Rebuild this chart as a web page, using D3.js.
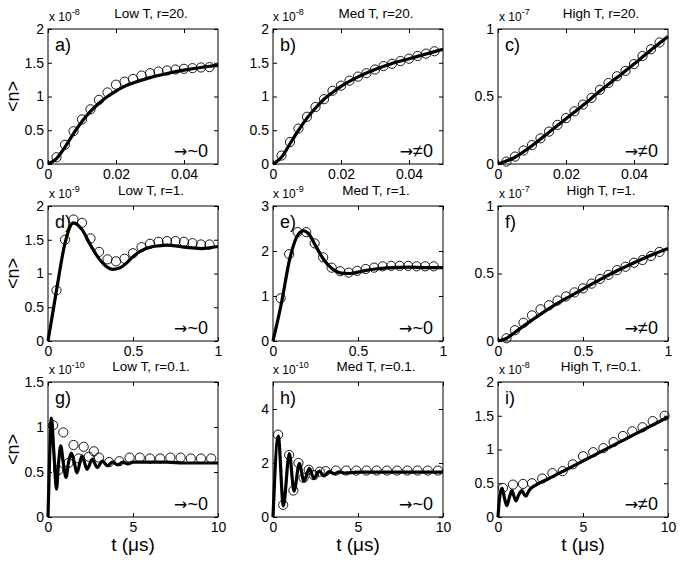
<!DOCTYPE html>
<html>
<head>
<meta charset="utf-8">
<script src="https://cdn.jsdelivr.net/npm/d3@7"></script>
<style>
  body { margin: 0; background: #fff; }
  svg { font-family: "Liberation Sans", Arial, Helvetica, sans-serif; }
  .tick text { font-size: 14px; fill: #000; }
  .tick line { stroke: #000; }
</style>
</head>
<body>
<svg id="chart" width="681" height="561"></svg>
<script>
// panel texts
const titles = ["Low T, r=20.", "Med T, r=20.", "High T, r=20.",
                "Low T, r=1.", "Med T, r=1.", "High T, r=1.",
                "Low T, r=0.1.", "Med T, r=0.1.", "High T, r=0.1."];
const letters = ["a)", "b)", "c)", "d)", "e)", "f)", "g)", "h)", "i)"];
const limits = ["~0", "\u22600", "\u22600",
                "~0", "~0", "\u22600",
                "~0", "~0", "\u22600"];
const exponents = ["-8", "-8", "-7", "-9", "-9", "-7", "-10", "-10", "-8"];

// axes per row (x) and per panel (y)
const xDomains = [[0, 0.05], [0, 1], [0, 10]];
const xTicks = [[0, 0.02, 0.04], [0, 0.5, 1], [0, 5, 10]];
const yDomains = [[0, 2], [0, 2], [0, 1], [0, 2], [0, 3], [0, 1], [0, 1.5], [0, 5], [0, 2]];
const yTicks = [[0, 0.5, 1, 1.5, 2], [0, 0.5, 1, 1.5, 2], [0, 0.5, 1],
                [0, 0.5, 1, 1.5, 2], [0, 1, 2, 3], [0, 0.5, 1],
                [0, 0.5, 1, 1.5], [0, 2, 4], [0, 0.5, 1, 1.5, 2]];

// solid curves  [t, <n>]
const curveA = [[0,0],[0.0025,0.08],[0.005,0.25],[0.0075,0.45],[0.01,0.63],[0.0125,0.78],[0.015,0.9],
  [0.0175,1.0],[0.02,1.08],[0.0225,1.15],[0.025,1.2],[0.03,1.28],[0.035,1.34],[0.04,1.39],[0.045,1.43],[0.05,1.46]];
const curveB = [[0,0],[0.0025,0.1],[0.005,0.3],[0.0075,0.5],[0.01,0.68],[0.0125,0.83],[0.015,0.96],
  [0.0175,1.06],[0.02,1.15],[0.025,1.29],[0.03,1.4],[0.035,1.49],[0.04,1.56],[0.045,1.63],[0.05,1.7]];
const curveC = [[0,0],[0.005,0.05],[0.01,0.135],[0.015,0.235],[0.02,0.335],[0.025,0.435],[0.03,0.54],
  [0.035,0.64],[0.04,0.74],[0.045,0.845],[0.05,0.945]];
const curveD = [[0,0],[0.05,0.75],[0.1,1.45],[0.15,1.75],[0.2,1.65],[0.25,1.42],[0.3,1.22],[0.35,1.09],
  [0.38,1.06],[0.42,1.08],[0.46,1.15],[0.5,1.25],[0.55,1.34],[0.6,1.39],[0.65,1.41],[0.7,1.42],[0.75,1.41],
  [0.8,1.39],[0.85,1.38],[0.9,1.37],[0.95,1.38],[1,1.4]];
const curveE = [[0,0],[0.05,0.85],[0.1,1.85],[0.15,2.38],[0.18,2.45],[0.21,2.38],[0.25,2.12],[0.3,1.8],
  [0.35,1.6],[0.4,1.51],[0.45,1.5],[0.5,1.53],[0.55,1.57],[0.6,1.6],[0.7,1.63],[0.8,1.64],[0.9,1.63],[1,1.63]];
const curveF = [[0,0],[0.05,0.02],[0.1,0.065],[0.2,0.155],[0.3,0.24],[0.4,0.315],[0.5,0.385],[0.6,0.455],
  [0.7,0.52],[0.8,0.58],[0.9,0.635],[1,0.685]];
const curveG = [[0,0],[0.1,0.7],[0.2,1.1],[0.35,0.7],[0.5,0.31],[0.62,0.6],[0.75,0.79],[0.9,0.6],[1.06,0.44],
  [1.2,0.6],[1.37,0.71],[1.55,0.6],[1.7,0.49],[2.0,0.68],[2.3,0.53],[2.6,0.64],[2.9,0.55],[3.2,0.62],[3.5,0.57],
  [3.8,0.61],[4.1,0.58],[4.4,0.61],[4.7,0.59],[5.0,0.61],[6,0.61],[7,0.61],[8,0.6],[9,0.6],[10,0.6]];
const curveH = [[0,0],[0.31,3.0],[0.61,0.41],[0.96,2.35],[1.24,0.96],[1.55,1.98],[1.82,1.33],[2.14,1.8],
  [2.4,1.43],[2.72,1.7],[3.0,1.52],[3.3,1.68],[3.6,1.6],[3.9,1.67],[4.2,1.63],[5,1.66],[6,1.66],[7,1.66],
  [8,1.66],[9,1.66],[10,1.66]];
const curveI = [[0,0],[0.1,0.3],[0.24,0.43],[0.38,0.28],[0.52,0.17],[0.68,0.3],[0.82,0.39],[0.95,0.3],
  [1.06,0.24],[1.22,0.33],[1.41,0.39],[1.55,0.33],[1.65,0.31],[1.8,0.38],[1.96,0.43],[2.2,0.47],[3,0.57],
  [4,0.7],[5,0.83],[6,0.96],[7,1.09],[8,1.22],[9,1.35],[10,1.48]];

// open circles  [t, <n>]
const circA = [[0.0025,0.1],[0.005,0.285],[0.0075,0.485],[0.01,0.66],[0.0125,0.81],[0.015,0.95],[0.0175,1.06],
  [0.02,1.175],[0.0225,1.22],[0.025,1.26],[0.0275,1.31],[0.03,1.345],[0.0325,1.37],[0.035,1.385],[0.0375,1.4],
  [0.04,1.41],[0.0425,1.42],[0.045,1.43],[0.0475,1.435]];
const circB = [[0.0025,0.125],[0.005,0.325],[0.0075,0.525],[0.01,0.7],[0.0125,0.845],[0.015,0.96],[0.0175,1.085],
  [0.02,1.16],[0.0225,1.235],[0.025,1.295],[0.0275,1.345],[0.03,1.4],[0.0325,1.45],[0.035,1.485],[0.0375,1.525],
  [0.04,1.56],[0.0425,1.6],[0.045,1.635],[0.0475,1.67]];
const circC = [[0.0025,0.018],[0.005,0.055],[0.0075,0.1],[0.01,0.14],[0.0125,0.19],[0.015,0.24],[0.0175,0.29],
  [0.02,0.34],[0.0225,0.39],[0.025,0.44],[0.0275,0.49],[0.03,0.55],[0.0325,0.6],[0.035,0.65],[0.0375,0.69],
  [0.04,0.74],[0.0425,0.8],[0.045,0.85],[0.0475,0.9]];
const circD = [[0.05,0.75],[0.1,1.5],[0.15,1.8],[0.2,1.75],[0.25,1.52],[0.3,1.32],[0.35,1.21],[0.4,1.18],
  [0.45,1.22],[0.5,1.3],[0.55,1.39],[0.6,1.44],[0.65,1.47],[0.7,1.48],[0.75,1.48],[0.8,1.47],[0.85,1.45],
  [0.9,1.43],[0.95,1.43]];
const circE = [[0.045,0.95],[0.095,1.93],[0.145,2.42],[0.195,2.42],[0.245,2.17],[0.295,1.86],[0.345,1.63],
  [0.395,1.55],[0.445,1.52],[0.495,1.56],[0.545,1.6],[0.595,1.63],[0.645,1.66],[0.695,1.67],[0.745,1.67],
  [0.795,1.67],[0.845,1.66],[0.895,1.66],[0.945,1.66]];
const circF = [[0.05,0.02],[0.1,0.08],[0.15,0.135],[0.2,0.19],[0.25,0.235],[0.3,0.265],[0.35,0.3],[0.4,0.33],
  [0.45,0.36],[0.5,0.39],[0.55,0.425],[0.6,0.46],[0.65,0.49],[0.7,0.525],[0.75,0.55],[0.8,0.58],[0.85,0.6],
  [0.9,0.63],[0.95,0.66]];
const circG = [[0.3,1.02],[0.6,0.52],[0.9,0.94],[1.2,0.6],[1.5,0.8],[1.8,0.65],[2.1,0.78],[2.4,0.67],[2.7,0.73],
  [3.0,0.66],[3.6,0.61],[4.2,0.62],[4.8,0.66],[5.4,0.66],[6.0,0.65],[6.6,0.65],[7.2,0.66],[7.8,0.66],
  [8.4,0.65],[9.0,0.65],[9.6,0.65]];
const circH = [[0.3,3.05],[0.6,0.45],[0.95,2.3],[1.2,0.98],[1.5,2.0],[1.8,1.45],[2.1,1.75],[2.4,1.55],
  [2.75,1.68],[3.1,1.7],[3.7,1.72],[4.3,1.72],[4.9,1.72],[5.5,1.72],[6.1,1.72],[6.7,1.72],[7.3,1.72],
  [7.9,1.72],[8.5,1.72],[9.1,1.72],[9.7,1.72]];
const circI = [[0.29,0.43],[0.88,0.48],[1.47,0.49],[2.0,0.5],[2.6,0.57],[3.2,0.65],[3.8,0.68],[4.4,0.78],
  [5.0,0.9],[5.6,0.96],[6.2,1.02],[6.8,1.11],[7.35,1.2],[7.9,1.27],[8.5,1.33],[9.1,1.42],[9.8,1.5]];

const curves = [curveA, curveB, curveC, curveD, curveE, curveF, curveG, curveH, curveI];
const circles = [circA, circB, circC, circD, circE, circF, circG, circH, circI];

// layout
const colX = [48, 273, 498];
const rowY = [29, 206, 382];
const W = 170, H = 135;

const svg = d3.select("#chart");

for (let p = 0; p < 9; p++) {
    const row = Math.floor(p / 3), col = p % 3;
    const g = svg.append("g").attr("transform", `translate(${colX[col]},${rowY[row]})`);

    const x = d3.scaleLinear().domain(xDomains[row]).range([0, W]);
    const y = d3.scaleLinear().domain(yDomains[p]).range([H, 0]);

    // axes with inward ticks on all four sides
    g.append("g").attr("transform", `translate(0,${H})`)
        .call(d3.axisBottom(x).tickValues(xTicks[row]).tickFormat(d => String(d))
            .tickSizeInner(-4).tickSizeOuter(0).tickPadding(5))
        .call(a => a.select(".domain").remove());
    g.append("g")
        .call(d3.axisTop(x).tickValues(xTicks[row]).tickFormat("")
            .tickSizeInner(-4).tickSizeOuter(0))
        .call(a => a.select(".domain").remove());
    g.append("g")
        .call(d3.axisLeft(y).tickValues(yTicks[p]).tickFormat(d => String(d))
            .tickSizeInner(-4).tickSizeOuter(0).tickPadding(4))
        .call(a => a.select(".domain").remove());
    g.append("g").attr("transform", `translate(${W},0)`)
        .call(d3.axisRight(y).tickValues(yTicks[p]).tickFormat("")
            .tickSizeInner(-4).tickSizeOuter(0))
        .call(a => a.select(".domain").remove());

    g.append("rect").attr("width", W).attr("height", H)
        .attr("fill", "none").attr("stroke", "#000").attr("stroke-width", 1);

    // circles then the thick curve
    g.selectAll("circle.pt").data(circles[p]).enter().append("circle")
        .attr("class", "pt")
        .attr("cx", d => x(d[0])).attr("cy", d => y(d[1])).attr("r", 4.6)
        .attr("fill", "none").attr("stroke", "#000").attr("stroke-width", 0.9);

    const line = d3.line().x(d => x(d[0])).y(d => y(d[1])).curve(d3.curveMonotoneX);
    g.append("path").datum(curves[p]).attr("d", line)
        .attr("fill", "none").attr("stroke", "#000").attr("stroke-width", 3.2)
        .attr("stroke-linejoin", "round");

    // texts
    g.append("text").attr("x", 7).attr("y", 22)
        .attr("font-size", 18).text(letters[p]);
    const lim = g.append("text").attr("x", W - 10).attr("y", H - 7)
        .attr("text-anchor", "end").attr("font-size", 18);
    lim.append("tspan").attr("font-family", "DejaVu Sans").attr("font-size", 16).text("\u2192");
    lim.append("tspan").text(limits[p]);
    g.append("text").attr("x", 103).attr("y", -11)
        .attr("text-anchor", "middle").attr("font-size", 13.5).text(titles[p]);
    const ex = g.append("text").attr("x", col === 1 ? 0 : 1).attr("y", -8).attr("font-size", 12);
    ex.append("tspan").text("x 10");
    ex.append("tspan").attr("dy", -6).attr("font-size", 9).text(exponents[p]);

    if (col === 0) {
        svg.append("text")
            .attr("transform", `translate(19,${rowY[row] + H / 2}) rotate(-90)`)
            .attr("text-anchor", "middle").attr("font-size", 18).text("<n>");
    }
    if (row === 2) {
        svg.append("text").attr("x", colX[col] + W / 2).attr("y", 551)
            .attr("text-anchor", "middle").attr("font-size", 19).text("t (\u03bcs)");
    }
}
</script>
</body>
</html>
